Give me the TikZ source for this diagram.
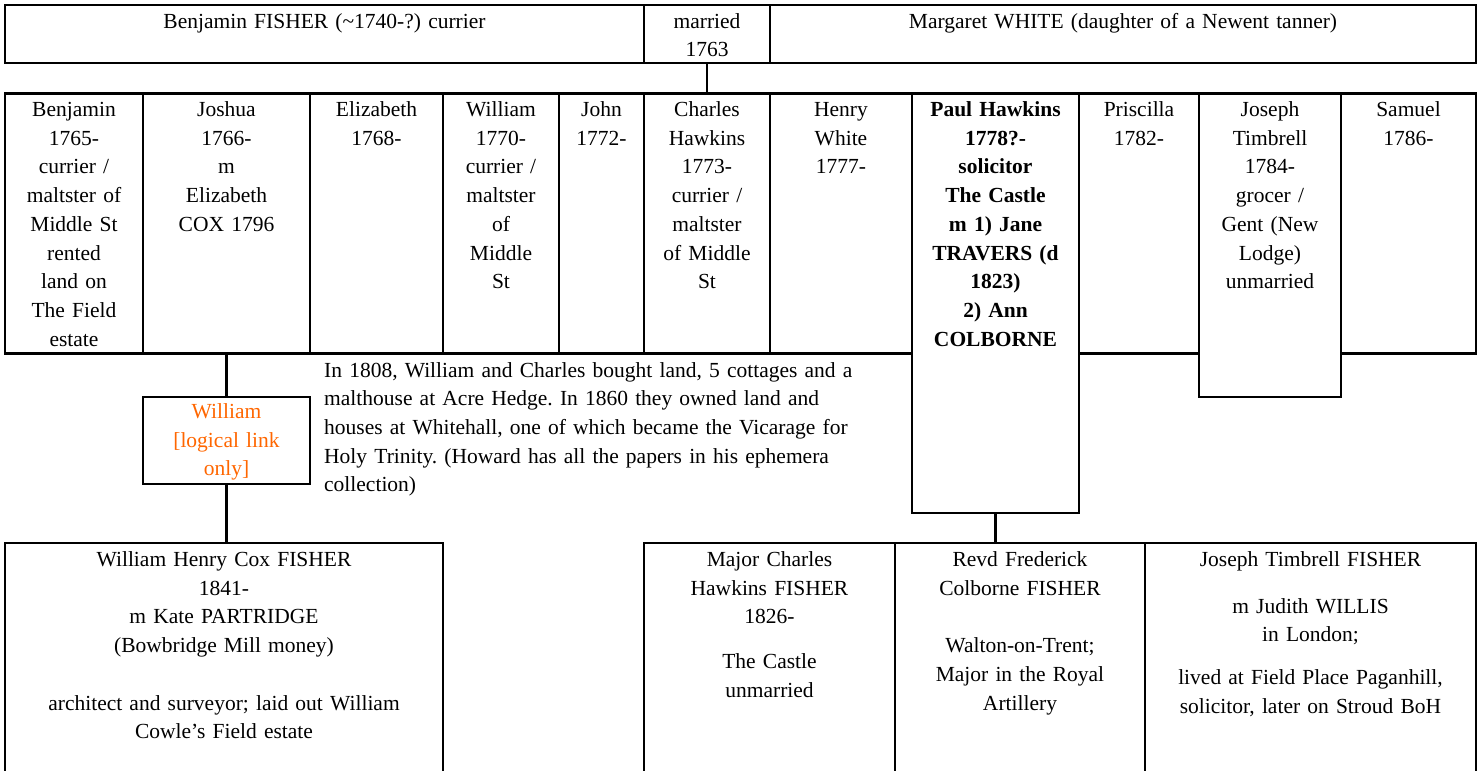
\documentclass[tikz,border=0pt]{standalone}
\usepackage{fontspec}
\setmainfont{Liberation Serif}
\usepackage{tikz}
\frenchspacing
\definecolor{linkorange}{RGB}{255,102,0}
\tikzset{
	box/.style={draw, line width=2.2pt, rectangle, anchor=north west, inner sep=0pt, outer sep=0pt, align=center, text height=23pt},
	link/.style={line width=2.2pt}
}

\begin{document}
\begin{tikzpicture}[x=1pt, y=-1pt, font=\fontsize{21.5pt}{28.7pt}\selectfont]
		%%%%% START %%%%%
		\useasboundingbox (0,0) rectangle (1481,771);
		
		% parents
		\node[box, text width=639pt, text depth=35pt] (bfisher) at (5,5) {Benjamin FISHER (\textasciitilde1740-?) currier};
		\node[box, text width=126pt, text depth=35pt] (married) at (644,5) {married\\1763};
		\node[box, text width=706pt, text depth=35pt] (mwhite) at (770,5) {Margaret WHITE (daughter of a Newent tanner)};
		
		% children
		\node[box, text width=138pt, text depth=237pt] (benj) at (5,93.5) {Benjamin\\1765-\\currier /\\maltster of\\Middle St\\rented\\land on\\The Field\\estate};
		\node[box, text width=167pt, text depth=237pt] (joshua) at (143,93.5) {Joshua\\1766-\\m\\Elizabeth\\COX 1796};
		\node[box, text width=133pt, text depth=237pt] (eliz) at (310,93.5) {Elizabeth\\1768-};
		\node[box, text width=116pt, text depth=237pt] (willm) at (443,93.5) {William\\1770-\\currier /\\maltster\\of\\Middle\\St};
		\node[box, text width=85pt, text depth=237pt] (john) at (559,93.5) {John\\1772-};
		\node[box, text width=126pt, text depth=237pt] (charles) at (644,93.5) {Charles\\Hawkins\\1773-\\currier /\\maltster\\of Middle\\St};
		\node[box, text width=142pt, text depth=237pt] (henry) at (770,93.5) {Henry\\White\\1777-};
		\node[box, text width=167pt, text depth=396.5pt, font=\fontsize{21.5pt}{28.7pt}\selectfont\bfseries] (paul) at (912,93.5) {Paul Hawkins\\1778?-\\solicitor\\The Castle\\m 1) Jane\\TRAVERS (d\\1823)\\2) Ann\\COLBORNE};
		\node[box, text width=120pt, text depth=237pt] (prisc) at (1079,93.5) {Priscilla\\1782-};
		\node[box, text width=142pt, text depth=280.5pt] (joseph) at (1199,93.5) {Joseph\\Timbrell\\1784-\\grocer /\\Gent (New\\Lodge)\\unmarried};
		\node[box, text width=135pt, text depth=237pt] (samuel) at (1341,93.5) {Samuel\\1786-};
		
		\draw[link] (married) -- (charles);
		
		% William link and note
		\node[box, text width=167pt, text height=21.5pt, text depth=65.5pt, text=linkorange] (wlink) at (143,397) {William\\{[}logical link\\only{]}};
		\draw[link] (joshua) -- (wlink);
		
		\node[anchor=base west, inner sep=0pt, text width=545pt, align=left] (note) at (324,377) {In 1808, William and Charles bought land, 5 cottages and a\\malthouse at Acre Hedge. In 1860 they owned land and\\houses at Whitehall, one of which became the Vicarage for\\Holy Trinity. (Howard has all the papers in his ephemera\\collection)};
		
		% grandchildren
		\node[box, text width=438pt, text height=23.5pt, text depth=240pt] (whcf) at (5,543) {William Henry Cox FISHER\\1841-\\m Kate PARTRIDGE\\(Bowbridge Mill money)\\[28.7pt]architect and surveyor; laid out William\\Cowle's Field estate};
		\node[box, text width=251pt, text height=23.5pt, text depth=240pt] (major) at (644,543) {Major Charles\\Hawkins FISHER\\1826-\\[16pt]The Castle\\unmarried};
		\node[box, text width=250pt, text height=23.5pt, text depth=240pt] (revd) at (895,543) {Revd Frederick\\Colborne FISHER\\[28.7pt]Walton-on-Trent;\\Major in the Royal\\Artillery};
		\node[box, text width=331pt, text height=23.5pt, text depth=240pt] (jtf) at (1145,543) {Joseph Timbrell FISHER\\[18pt]m Judith WILLIS\\in London;\\[14pt]lived at Field Place Paganhill,\\solicitor, later on Stroud BoH};
		
		\draw[link] (wlink.south) -- (wlink.south |- whcf.north);
		\draw[link] (paul.south) -- (paul.south |- revd.north);
		
		%%%%% END %%%%%
	\end{tikzpicture}
\end{document}
